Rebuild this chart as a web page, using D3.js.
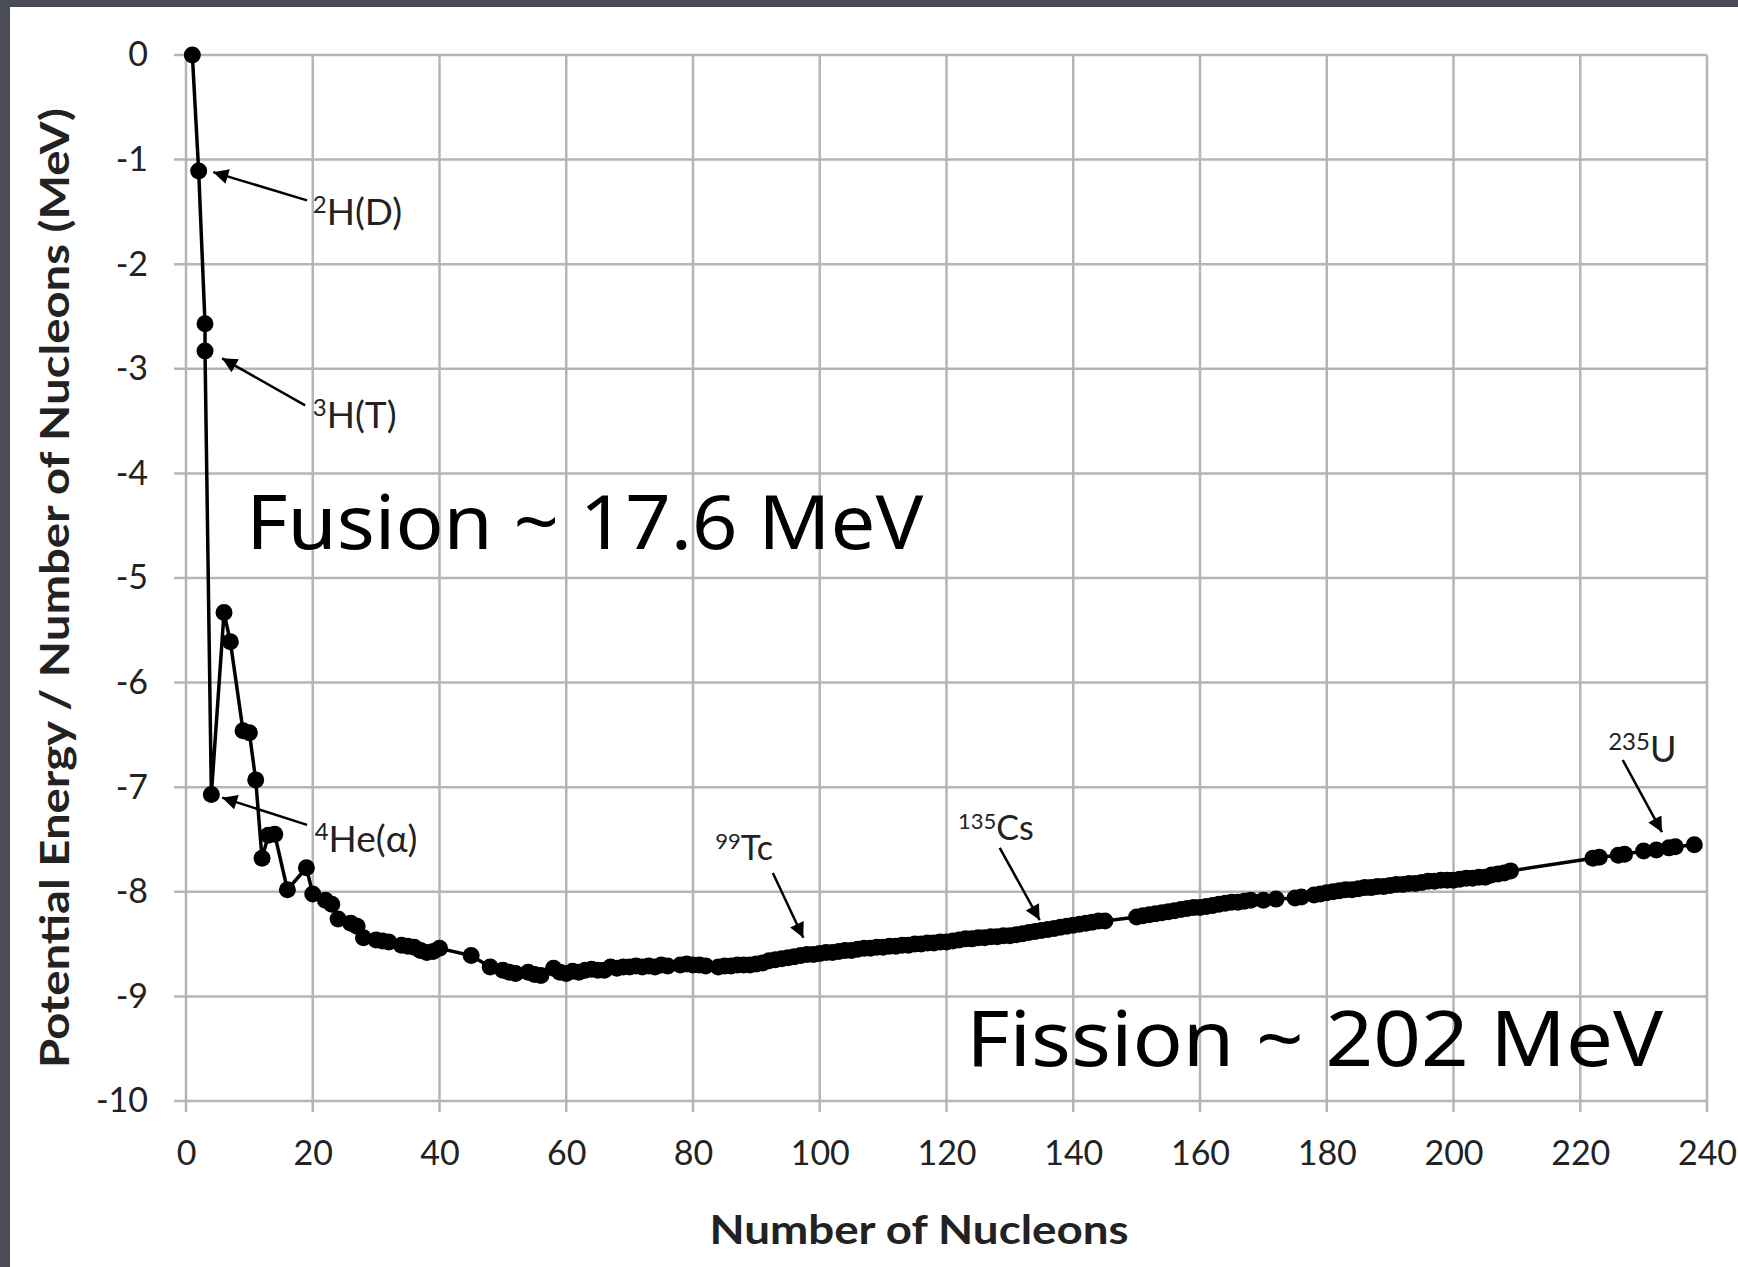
<!DOCTYPE html>
<html>
<head>
<meta charset="utf-8">
<script src="https://cdn.jsdelivr.net/npm/d3@7"></script>
<style>
  body { margin: 0; background: #4a4d57; }
  svg { display: block; }
</style>
</head>
<body>
<svg id="chart" width="1738" height="1267"></svg>
<script>
// Number of nucleons (A) and potential energy per nucleon (MeV)
const nucleons = [
  1, 2, 3, 3, 4, 6, 7, 9, 10, 11,
  12, 13, 14, 16, 19, 20, 22, 23, 24, 26,
  27, 28, 30, 31, 32, 34, 35, 36, 37, 38,
  39, 40, 45, 48, 50, 51, 52, 54, 55, 56,
  58, 59, 60, 61, 62, 63, 64, 65, 66, 67,
  68, 69, 70, 71, 72, 73, 74, 75, 76, 78,
  79, 80, 81, 82, 84, 85, 86, 87, 88, 89,
  90, 91, 92, 93, 94, 95, 96, 97, 98, 99,
  100, 101, 102, 103, 104, 105, 106, 107, 108, 109,
  110, 111, 112, 113, 114, 115, 116, 117, 118, 119,
  120, 121, 122, 123, 124, 125, 126, 127, 128, 129,
  130, 131, 132, 133, 134, 135, 136, 137, 138, 139,
  140, 141, 142, 143, 144, 145, 150, 151, 152, 153,
  154, 155, 156, 157, 158, 159, 160, 161, 162, 163,
  164, 165, 166, 167, 168, 170, 172, 175, 176, 178,
  179, 180, 181, 182, 183, 184, 185, 186, 187, 188,
  189, 190, 191, 192, 193, 194, 195, 196, 197, 198,
  199, 200, 201, 202, 203, 204, 205, 206, 207, 208,
  209, 222, 223, 226, 227, 230, 232, 234, 235, 238
];
const energy = [
  0, -1.11, -2.57, -2.83, -7.07, -5.33, -5.61, -6.46, -6.48, -6.93,
  -7.68, -7.46, -7.45, -7.98, -7.77, -8.02, -8.08, -8.12, -8.26, -8.30,
  -8.33, -8.44, -8.46, -8.47, -8.48, -8.51, -8.52, -8.53, -8.56, -8.58,
  -8.57, -8.54, -8.61, -8.72, -8.75, -8.77, -8.78, -8.77, -8.79, -8.80,
  -8.73, -8.77, -8.78, -8.76, -8.77, -8.75, -8.74, -8.75, -8.75, -8.72,
  -8.73, -8.72, -8.72, -8.71, -8.72, -8.71, -8.72, -8.70, -8.71, -8.70,
  -8.69, -8.70, -8.70, -8.71, -8.72, -8.71, -8.71, -8.70, -8.70, -8.70,
  -8.69, -8.68, -8.66, -8.65, -8.64, -8.63, -8.62, -8.61, -8.60, -8.60,
  -8.59, -8.58, -8.58, -8.57, -8.56, -8.56, -8.55, -8.54, -8.54, -8.53,
  -8.53, -8.52, -8.52, -8.51, -8.51, -8.50, -8.50, -8.49, -8.49, -8.48,
  -8.48, -8.47, -8.46, -8.45, -8.45, -8.44, -8.44, -8.43, -8.43, -8.42,
  -8.42, -8.41, -8.40, -8.39, -8.38, -8.37, -8.36, -8.35, -8.34, -8.33,
  -8.32, -8.31, -8.30, -8.29, -8.28, -8.28, -8.24, -8.23, -8.22, -8.21,
  -8.20, -8.19, -8.18, -8.17, -8.16, -8.15, -8.15, -8.14, -8.13, -8.12,
  -8.11, -8.10, -8.10, -8.09, -8.08, -8.08, -8.07, -8.06, -8.05, -8.03,
  -8.02, -8.01, -8.00, -7.99, -7.98, -7.98, -7.97, -7.96, -7.96, -7.95,
  -7.95, -7.94, -7.93, -7.93, -7.92, -7.92, -7.91, -7.90, -7.90, -7.89,
  -7.89, -7.89, -7.88, -7.87, -7.87, -7.86, -7.86, -7.84, -7.83, -7.82,
  -7.80, -7.68, -7.67, -7.65, -7.64, -7.61, -7.60, -7.58, -7.57, -7.55
];
const xTicks = [0, 20, 40, 60, 80, 100, 120, 140, 160, 180, 200, 220, 240];
const yTicks = [0, -1, -2, -3, -4, -5, -6, -7, -8, -9, -10];

// isotope labels: superscript, name
const isoSup = ["2", "3", "4", "99", "135", "235"];
const isoName = ["H(D)", "H(T)", "He(\u03b1)", "Tc", "Cs", "U"];

const points = nucleons.map((a, i) => ({A: a, E: energy[i]}));

const svg = d3.select("#chart"),
      W = +svg.attr("width"),
      H = +svg.attr("height");

// white panel (dark frame on left and top)
svg.append("rect")
  .attr("x", 10).attr("y", 7)
  .attr("width", W - 10).attr("height", H - 7)
  .attr("fill", "#ffffff");

const x = d3.scaleLinear().domain([0, 240]).range([186, 1707]);
const y = d3.scaleLinear().domain([-10, 0]).range([1101, 55]);

const gridColor = "#b5b5b5";

// gridlines
const grid = svg.append("g");
grid.selectAll("line.v")
  .data(xTicks)
  .enter().append("line")
    .attr("class", "v")
    .attr("x1", d => x(d)).attr("x2", d => x(d))
    .attr("y1", y(0)).attr("y2", y(-10) + 11)
    .attr("stroke", gridColor)
    .attr("stroke-width", 2.5);
grid.selectAll("line.h")
  .data(yTicks)
  .enter().append("line")
    .attr("class", "h")
    .attr("x1", x(0) - 12).attr("x2", x(240))
    .attr("y1", d => y(d)).attr("y2", d => y(d))
    .attr("stroke", gridColor)
    .attr("stroke-width", 2.5);

// Truc Y (plain hyphen for minus, as in the picture)
svg.append("g")
  .attr("transform", `translate(${x(0)},0)`)
  .call(d3.axisLeft(y).tickValues(yTicks).tickSize(0).tickPadding(38)
    .tickFormat(d => String(d)))
  .call(g => g.select(".domain").remove())
  .selectAll("text")
    .style("font-family", "Lato, 'Open Sans', sans-serif")
    .style("font-size", "34px")
    .attr("fill", "#222");

// Truc X
svg.append("g")
  .attr("transform", `translate(0,${y(-10)})`)
  .call(d3.axisBottom(x).tickValues(xTicks).tickSize(0).tickPadding(40)
    .tickFormat(d => String(d)))
  .call(g => g.select(".domain").remove())
  .selectAll("text")
    .style("font-family", "Lato, 'Open Sans', sans-serif")
    .style("font-size", "34px")
    .attr("fill", "#222");

// line + markers
const line = d3.line().x(d => x(d.A)).y(d => y(d.E));
svg.append("path")
  .datum(points)
  .attr("d", line)
  .attr("fill", "none")
  .attr("stroke", "#000")
  .attr("stroke-width", 3.5);

svg.selectAll("circle.pt")
  .data(points)
  .enter().append("circle")
    .attr("class", "pt")
    .attr("cx", d => x(d.A))
    .attr("cy", d => y(d.E))
    .attr("r", 8.5)
    .attr("fill", "#000");

// arrow marker
svg.append("defs").append("marker")
  .attr("id", "arrow")
  .attr("viewBox", "0 0 10 10")
  .attr("refX", 10).attr("refY", 5)
  .attr("markerWidth", 7).attr("markerHeight", 6)
  .attr("markerUnits", "strokeWidth")
  .attr("orient", "auto")
  .append("path")
    .attr("d", "M0,0 L10,5 L0,10 z")
    .attr("fill", "#000");

// label placement in data units: text anchor, arrow start, arrow tip
const notePos = [
  {lx: 20.0, ly: -1.63, x1: 19.1, y1: -1.39, x2: 4.3, y2: -1.12, fs: 37},
  {lx: 20.0, ly: -3.57, x1: 18.8, y1: -3.35, x2: 5.7, y2: -2.90, fs: 37},
  {lx: 20.3, ly: -7.62, x1: 19.1, y1: -7.36, x2: 5.7, y2: -7.10, fs: 37},
  {lx: 83.5, ly: -7.70, x1: 92.6, y1: -7.82, x2: 97.4, y2: -8.44, fs: 34},
  {lx: 121.8, ly: -7.50, x1: 128.4, y1: -7.58, x2: 134.7, y2: -8.27, fs: 34},
  {lx: 224.4, ly: -6.76, x1: 226.7, y1: -6.74, x2: 232.9, y2: -7.43, fs: 36}
];

notePos.forEach((p, i) => {
  svg.append("line")
    .attr("x1", x(p.x1)).attr("y1", y(p.y1))
    .attr("x2", x(p.x2)).attr("y2", y(p.y2))
    .attr("stroke", "#000")
    .attr("stroke-width", 2.5)
    .attr("marker-end", "url(#arrow)");

  const t = svg.append("text")
    .attr("x", x(p.lx)).attr("y", y(p.ly))
    .style("font-family", "Lato, 'Open Sans', sans-serif")
    .style("font-size", p.fs + "px")
    .attr("fill", "#222");
  t.append("tspan")
    .style("font-size", Math.round(p.fs * 0.66) + "px")
    .attr("dy", -Math.round(p.fs * 0.32))
    .text(isoSup[i]);
  t.append("tspan")
    .attr("dy", Math.round(p.fs * 0.32))
    .text(isoName[i]);
});

// big annotations
svg.append("text")
  .attr("x", x(9.5)).attr("y", y(-4.72))
  .attr("textLength", 677).attr("lengthAdjust", "spacingAndGlyphs")
  .style("font-family", "'Comic Sans MS', 'Noto Sans', sans-serif")
  .style("font-size", "74px")
  .attr("fill", "#000")
  .text("Fusion ~ 17.6 MeV");

svg.append("text")
  .attr("x", x(123.1)).attr("y", y(-9.67))
  .attr("textLength", 697).attr("lengthAdjust", "spacingAndGlyphs")
  .style("font-family", "'Comic Sans MS', 'Noto Sans', sans-serif")
  .style("font-size", "76px")
  .attr("fill", "#000")
  .text("Fission ~ 202 MeV");

// axis titles
svg.append("text")
  .attr("transform", `translate(69,${(y(0) + y(-10)) / 2 + 10}) rotate(-90)`)
  .attr("text-anchor", "middle")
  .attr("textLength", 960).attr("lengthAdjust", "spacingAndGlyphs")
  .style("font-family", "Lato, 'Open Sans', sans-serif")
  .style("font-size", "40px")
  .style("font-weight", "bold")
  .attr("fill", "#222")
  .text("Potential Energy / Number of Nucleons (MeV)");

svg.append("text")
  .attr("x", 919).attr("y", 1244)
  .attr("text-anchor", "middle")
  .attr("textLength", 419).attr("lengthAdjust", "spacingAndGlyphs")
  .style("font-family", "Lato, 'Open Sans', sans-serif")
  .style("font-size", "40px")
  .style("font-weight", "bold")
  .attr("fill", "#222")
  .text("Number of Nucleons");
</script>
</body>
</html>
